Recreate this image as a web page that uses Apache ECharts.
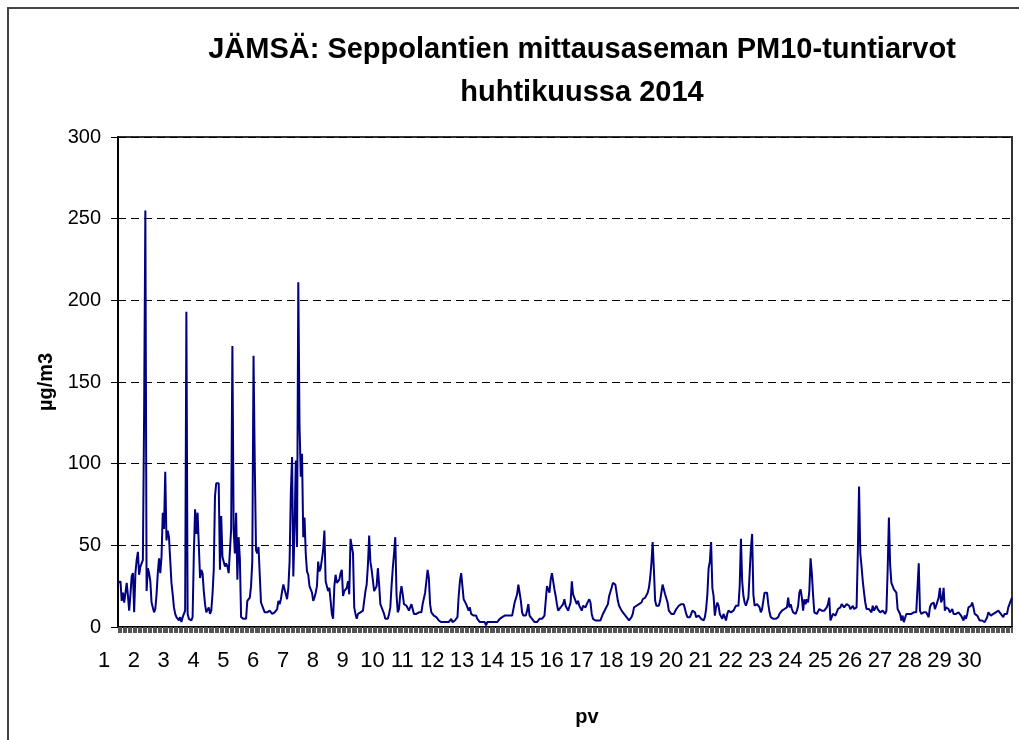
<!DOCTYPE html>
<html>
<head>
<meta charset="utf-8">
<script src="https://cdn.jsdelivr.net/npm/echarts@6/dist/echarts.min.js"></script>
<style>
  html, body { margin: 0; padding: 0; background: #fff; }
  #chart { width: 1019px; height: 740px; }
</style>
</head>
<body>
<div id="chart"></div>
<script>
// day labels shown under the axis
var dayLabels = ['1','2','3','4','5','6','7','8','9','10','11','12','13','14','15',
  '16','17','18','19','20','21','22','23','24','25','26','27','28','29','30'];
var hours = ['1','2','3','4','5','6','7','8','9','10','11','12',
  '13','14','15','16','17','18','19','20','21','22','23','24'];
var yTicks = [0, 50, 100, 150, 200, 250, 300];

// PM10 hourly values (µg/m3), one row per day
var pm10 = [
  27,28,28,16,21,15,14,27,19,10,20,31,33,9,33,41,46,32,37,38,41,130,255,22,
  36,33,28,15,12,9,11,20,33,42,33,43,70,60,95,53,59,55,41,27,20,12,8,6,
  5,4,6,3,6,7,10,193,8,5,4,4,6,45,72,57,70,50,30,35,33,22,14,9,
  10,12,8,10,20,35,80,88,89,88,35,68,43,42,37,39,37,33,33,60,172,60,45,70,
  29,55,42,6,5,5,4,5,16,16,18,25,40,166,100,47,45,49,48,15,14,11,9,9,
  9,9,10,11,8,9,9,9,11,16,14,17,22,26,23,20,17,24,40,82,104,31,60,102,
  49,211,123,92,106,55,67,45,34,32,25,26,21,16,18,21,25,40,34,36,37,47,59,28,
  25,22,24,16,8,5,25,32,27,26,29,33,35,19,22,23,24,28,20,54,53,45,12,8,
  5,8,7,9,9,10,10,22,26,38,56,40,35,34,22,23,25,36,26,14,13,10,8,5,
  5,5,8,12,25,36,45,55,20,9,11,20,25,20,14,13,13,12,10,11,14,11,8,7,
  8,9,9,9,9,14,15,21,28,35,30,14,9,8,7,7,6,5,4,4,3,3,3,2,
  3,2,3,4,5,3,4,4,5,6,19,28,33,25,17,16,14,12,10,12,8,9,7,8,
  7,5,4,3,3,3,3,3,1,3,2,3,2,3,4,3,4,3,3,5,6,6,6,7,
  8,7,8,7,8,7,8,15,16,20,26,26,16,9,7,6,7,10,14,7,6,5,4,3,
  4,3,4,5,4,5,6,7,7,25,23,21,29,33,34,23,19,14,10,11,12,12,14,17,
  13,12,10,9,15,28,20,18,17,14,16,13,12,10,13,12,12,14,15,17,15,8,5,4,
  4,4,4,4,4,5,8,9,11,12,14,19,20,24,27,26,26,27,16,13,12,10,9,8,
  8,6,5,4,4,6,8,12,13,13,13,14,13,15,17,17,18,19,21,24,30,39,52,35,
  16,13,13,13,16,21,26,23,20,19,15,10,9,8,8,8,9,11,12,13,14,14,15,14,
  11,8,6,5,6,8,10,11,9,6,7,7,6,5,4,4,6,11,20,36,40,52,24,19,
  7,12,15,13,8,9,5,8,6,4,8,10,11,9,8,10,11,13,14,13,25,54,28,19,
  15,13,12,18,33,48,57,20,13,14,14,13,12,9,11,16,21,22,21,14,9,6,5,5,
  5,5,5,6,8,9,10,10,11,11,12,18,12,14,11,9,8,8,10,13,21,23,18,10,
  17,14,17,15,22,42,33,20,9,8,8,9,11,11,10,11,10,11,12,14,18,4,5,8,
  9,7,9,11,11,12,14,14,12,11,14,14,13,11,12,13,11,12,12,45,86,45,37,28,
  21,15,11,10,11,10,9,13,10,11,13,11,10,9,8,10,9,8,10,35,67,38,27,25,
  23,22,21,11,11,8,4,7,3,2,8,7,8,9,8,8,9,10,9,10,39,10,8,7,
  9,8,9,8,6,12,14,13,15,11,13,14,18,24,15,17,24,10,12,12,11,9,8,11,
  8,9,8,8,9,8,7,6,4,7,5,8,12,11,13,15,12,8,7,7,6,4,3,4,
  3,3,4,6,9,8,7,7,8,9,9,9,10,10,8,7,6,8,7,8,12,14,16,18
];

// one category per hour: "day.hour"
var categories = [];
dayLabels.forEach(function (d) {
  hours.forEach(function (h) { categories.push(d + '.' + h); });
});

var font = 'Liberation Sans, Arial, sans-serif';
var chart = echarts.init(document.getElementById('chart'));
var option = {
  animation: false,
  backgroundColor: '#fff',
  title: {
    text: 'JÄMSÄ: Seppolantien mittausaseman PM10-tuntiarvot\nhuhtikuussa 2014',
    left: 577,
    top: 23,
    textAlign: 'center',
    textStyle: {
      fontFamily: font,
      fontSize: 29,
      fontWeight: 'bold',
      lineHeight: 43,
      color: '#000'
    }
  },
  graphic: [{
    type: 'rect',
    shape: { x: 8, y: 8, width: 1100, height: 800 },
    style: { fill: 'none', stroke: '#444', lineWidth: 2 },
    silent: true
  }],
  grid: {
    left: 118,
    right: 7,
    top: 137,
    bottom: 113,
    show: true,
    borderColor: '#333',
    borderWidth: 2
  },
  xAxis: {
    type: 'category',
    data: categories,
    boundaryGap: false,
    name: 'pv',
    nameLocation: 'middle',
    nameGap: 80,
    nameTextStyle: {
      fontFamily: font, fontSize: 20, fontWeight: 'bold', color: '#000',
      padding: [0, 0, 0, 44]
    },
    axisLine: { lineStyle: { color: '#000', width: 2 } },
    axisTick: {
      interval: 0,
      length: 6,
      lineStyle: { color: '#555', width: 1 }
    },
    axisLabel: {
      interval: function (index) { return index % 24 === 0; },
      formatter: function (value) { return value.split('.')[0]; },
      fontFamily: font,
      fontSize: 22,
      color: '#000',
      margin: 23,
      padding: [0, 28, 0, 0]
    },
    splitLine: { show: false }
  },
  yAxis: {
    type: 'value',
    min: yTicks[0],
    max: yTicks[yTicks.length - 1],
    interval: yTicks[1] - yTicks[0],
    name: 'µg/m3',
    nameLocation: 'middle',
    nameGap: 48,
    nameTextStyle: { fontFamily: font, fontSize: 20, fontWeight: 'bold', color: '#000' },
    axisLine: { show: true, lineStyle: { color: '#000', width: 2 } },
    axisTick: { show: true, length: 7, lineStyle: { color: '#000' } },
    axisLabel: { fontFamily: font, fontSize: 20, color: '#000', margin: 17 },
    splitLine: { lineStyle: { color: '#000', width: 1, type: [8, 5] } }
  },
  series: [{
    name: 'PM10',
    type: 'line',
    data: pm10,
    showSymbol: false,
    sampling: null,
    lineStyle: { color: '#000080', width: 2 },
    itemStyle: { color: '#000080' }
  }]
};
chart.setOption(option);
</script>
</body>
</html>
